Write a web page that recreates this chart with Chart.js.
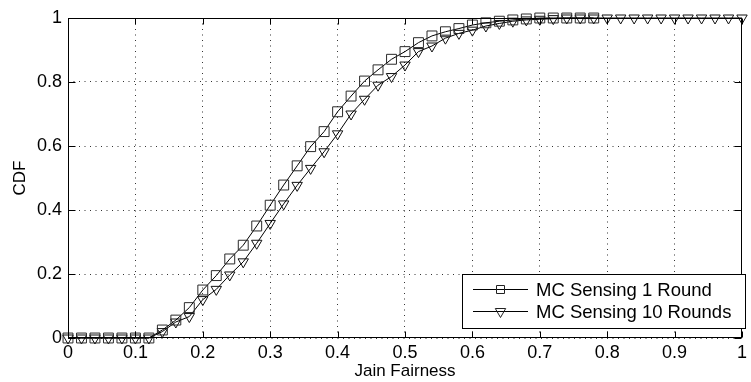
<!DOCTYPE html>
<html>
<head>
<meta charset="utf-8">
<script src="https://cdn.jsdelivr.net/npm/chart.js@4.4.1/dist/chart.umd.min.js"></script>
<style>
  html, body { margin: 0; padding: 0; background: #fff; }
  #wrap { width: 751px; height: 382px; }
</style>
</head>
<body>
<div id="wrap"><canvas id="cdf" width="751" height="382"></canvas></div>
<script>
// Jain fairness sample points
var fairness = [0, 0.02, 0.04, 0.06, 0.08, 0.1, 0.12, 0.14, 0.16, 0.18,
  0.2, 0.22, 0.24, 0.26, 0.28, 0.3, 0.32, 0.34, 0.36, 0.38,
  0.4, 0.42, 0.44, 0.46, 0.48, 0.5, 0.52, 0.54, 0.56, 0.58,
  0.6, 0.62, 0.64, 0.66, 0.68, 0.7, 0.72, 0.74, 0.76, 0.78,
  0.8, 0.82, 0.84, 0.86, 0.88, 0.9, 0.92, 0.94, 0.96, 0.98, 1];

// MC Sensing 1 Round (stops at 0.78)
var cdfOneRound = [0, 0, 0, 0, 0, 0, 0, 0.025, 0.056, 0.095,
  0.15, 0.195, 0.247, 0.29, 0.35, 0.415, 0.478, 0.538, 0.598, 0.645,
  0.707, 0.756, 0.803, 0.838, 0.871, 0.895, 0.923, 0.944, 0.957, 0.967,
  0.978, 0.985, 0.99, 0.994, 0.997, 1, 1, 1, 1, 1];

// MC Sensing 10 Rounds
var cdfTenRounds = [0, 0, 0, 0, 0, 0, 0, 0.02, 0.05, 0.067,
  0.12, 0.152, 0.197, 0.238, 0.296, 0.358, 0.419, 0.477, 0.53, 0.582,
  0.638, 0.7, 0.746, 0.79, 0.817, 0.853, 0.895, 0.9125, 0.937, 0.952,
  0.962, 0.975, 0.983, 0.99, 0.994, 0.996, 0.998, 1, 1, 1,
  1, 1, 1, 1, 1, 1, 1, 1, 1, 1, 1];

var seriesNames = ['MC Sensing 1 Round', 'MC Sensing 10 Rounds'];
var xTicks = [0, 0.1, 0.2, 0.3, 0.4, 0.5, 0.6, 0.7, 0.8, 0.9, 1];
var yTicks = [0, 0.2, 0.4, 0.6, 0.8, 1];

var FONT = "'Liberation Sans', Arial, Helvetica, sans-serif";

function toPoints(xs, ys) {
  return ys.map(function (y, i) { return { x: xs[i], y: y }; });
}

function drawMarker(ctx, style, x, y) {
  ctx.beginPath();
  if (style === 'rect') {
    ctx.rect(x - 4, y - 4, 8, 8);
  } else {
    var r = 6;
    ctx.moveTo(x, y + r);
    ctx.lineTo(x - r * 0.866, y - r / 2);
    ctx.lineTo(x + r * 0.866, y - r / 2);
    ctx.closePath();
  }
  ctx.stroke();
}

// matlab style box, inward ticks and legend
var matlabFrame = {
  id: 'matlabFrame',
  afterDraw: function (chart) {
    var ctx = chart.ctx;
    var a = chart.chartArea;
    var xs = chart.scales.x, ys = chart.scales.y;
    var L = Math.round(a.left) + 0.5, R = Math.round(a.right) - 0.5;
    var T = Math.round(a.top) + 0.5, B = Math.round(a.bottom) - 0.5;
    ctx.save();
    ctx.strokeStyle = '#000';
    ctx.lineWidth = 1;
    ctx.strokeRect(L, T, R - L, B - T);
    ctx.beginPath();
    xTicks.forEach(function (v) {
      var px = Math.round(xs.getPixelForValue(v)) + 0.5;
      ctx.moveTo(px, B); ctx.lineTo(px, B - 6);
      ctx.moveTo(px, T); ctx.lineTo(px, T + 6);
    });
    yTicks.forEach(function (v) {
      var py = Math.round(ys.getPixelForValue(v)) + 0.5;
      ctx.moveTo(L, py); ctx.lineTo(L + 7, py);
      ctx.moveTo(R, py); ctx.lineTo(R - 7, py);
    });
    ctx.stroke();

    // legend box
    var bx = 462.5, by = 274.5, bw = 283, bh = 54;
    ctx.fillStyle = '#fff';
    ctx.fillRect(bx, by, bw, bh);
    ctx.strokeRect(bx, by, bw, bh);
    var styles = ['rect', 'triangle'];
    var rows = [289.5, 311.5];
    ctx.font = '18.5px ' + FONT;
    ctx.textBaseline = 'middle';
    ctx.textAlign = 'left';
    seriesNames.forEach(function (name, i) {
      ctx.strokeStyle = '#000';
      ctx.beginPath();
      ctx.moveTo(473, rows[i]);
      ctx.lineTo(528, rows[i]);
      ctx.stroke();
      ctx.strokeStyle = '#222';
      drawMarker(ctx, styles[i], 500.5, rows[i]);
      ctx.fillStyle = '#000';
      ctx.fillText(name, 536, rows[i] + 1);
    });
    ctx.restore();
  }
};

var ctx = document.getElementById('cdf');
new Chart(ctx, {
  type: 'line',
  data: {
    datasets: [{
      label: seriesNames[0],
      data: toPoints(fairness, cdfOneRound),
      borderColor: '#000',
      borderWidth: 1,
      pointStyle: 'rect',
      pointRadius: 7,
      pointBorderWidth: 1,
      pointBorderColor: '#2a2a2a',
      pointBackgroundColor: 'rgba(0,0,0,0)',
      tension: 0,
      clip: false
    }, {
      label: seriesNames[1],
      data: toPoints(fairness, cdfTenRounds),
      borderColor: '#000',
      borderWidth: 1,
      pointStyle: 'triangle',
      pointRotation: 180,
      pointRadius: 6,
      pointBorderWidth: 1,
      pointBorderColor: '#111',
      pointBackgroundColor: 'rgba(0,0,0,0)',
      tension: 0,
      clip: false
    }]
  },
  options: {
    responsive: false,
    animation: false,
    devicePixelRatio: 1,
    layout: { padding: { top: 18, right: 3, left: 0, bottom: 0 } },
    scales: {
      x: {
        type: 'linear',
        min: 0,
        max: 1,
        afterBuildTicks: function (s) { s.ticks = xTicks.map(function (v) { return { value: v }; }); },
        afterFit: function (s) { s.height = 44; },
        grid: { color: '#333', lineWidth: 1, drawTicks: false },
        border: { display: false, dash: [1, 4.5] },
        ticks: {
          padding: 4,
          maxRotation: 0,
          color: '#000',
          font: { family: FONT, size: 18 },
          callback: function (v) { return String(v); }
        },
        title: {
          display: true,
          text: 'Jain Fairness',
          color: '#000',
          font: { family: FONT, size: 17 },
          padding: { top: 0, bottom: 0 }
        }
      },
      y: {
        min: 0,
        max: 1,
        afterBuildTicks: function (s) { s.ticks = yTicks.map(function (v) { return { value: v }; }); },
        afterFit: function (s) { s.width = 68; },
        grid: { color: '#333', lineWidth: 1, drawTicks: false },
        border: { display: false, dash: [1, 4.5] },
        ticks: {
          padding: 6,
          color: '#000',
          font: { family: FONT, size: 18 },
          callback: function (v) { return String(v); }
        },
        title: {
          display: true,
          text: 'CDF',
          color: '#000',
          font: { family: FONT, size: 17 },
          padding: { top: 10, bottom: 0 }
        }
      }
    },
    plugins: {
      legend: { display: false },
      tooltip: { enabled: false }
    }
  },
  plugins: [matlabFrame]
});
</script>
</body>
</html>
